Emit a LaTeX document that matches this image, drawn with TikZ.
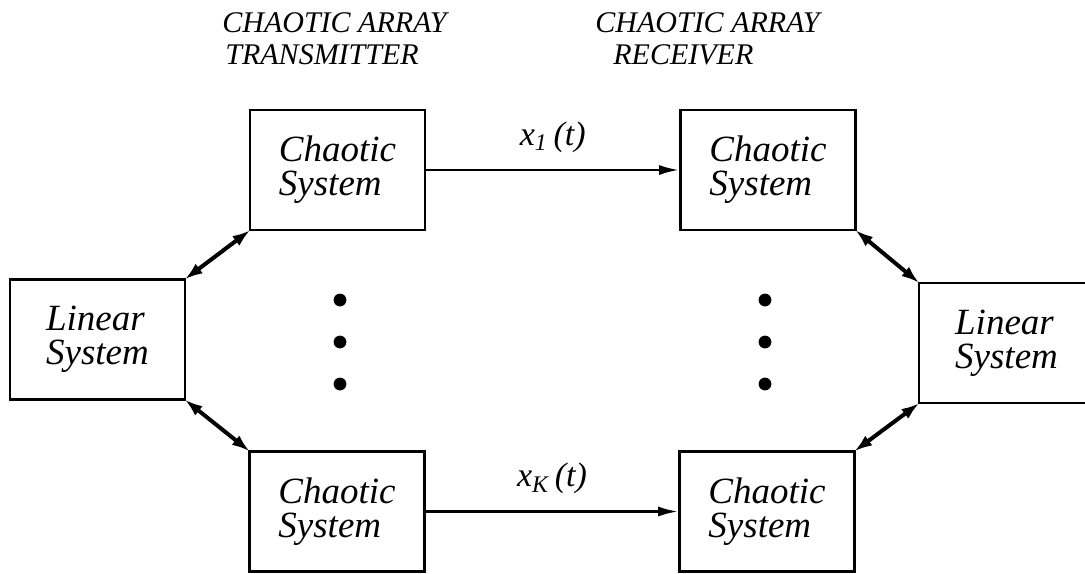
\documentclass[tikz,border=0pt]{standalone}
\usepackage{fontspec}
\setmainfont{Liberation Serif}
\usetikzlibrary{arrows.meta,positioning}
\tikzset{
  sysbox/.style={draw, line width=1.3pt, minimum width=87.5pt, minimum height=60pt,
    inner sep=0pt, align=left, font=\fontsize{18.5}{17}\selectfont\itshape},
  arraytitle/.style={anchor=north west, inner sep=0pt, align=left,
    font=\fontsize{15}{16}\selectfont\itshape},
  siglabel/.style={inner sep=0pt, font=\fontsize{17}{17}\selectfont\itshape},
  sigline/.style={line width=1.3pt, -{Latex[length=10pt,width=5pt]}},
  coupling/.style={line width=2pt, {Latex[length=9pt,width=6pt]}-{Latex[length=9pt,width=6pt]}, shorten <=-1pt, shorten >=-1pt}
}
\begin{document}
\begin{tikzpicture}[x=0.5pt,y=-0.5pt]
\clip (0,0) rectangle (1085,573);
% titles
\node[arraytitle] (txtitle) at (222,12) {CHAOTIC ARRAY\\\hspace*{1.5pt}TRANSMITTER};
\node[arraytitle] (rxtitle) at (595,12) {CHAOTIC ARRAY\\\hspace*{9pt}RECEIVER};

% transmitter side
\node[sysbox] (linL) at (97.5,339.5) {Linear\\System};
\node[sysbox] (chTL) at (337.5,170) {Chaotic\\System};
\node[sysbox] (chBL) at (337,511.5) {Chaotic\\System};

% receiver side
\node[sysbox] (chTR) at (768,170) {Chaotic\\System};
\node[sysbox] (chBR) at (767,511.5) {Chaotic\\System};
\node[sysbox] (linR) at (1006.5,343) {Linear\\System};

% channels
\draw[sigline] (chTL.east) -- (chTR.west) node[siglabel, midway, above=8pt] (x1) {x\textsubscript{1}\,(t)};
\draw[sigline] (chBL.east) -- (chBR.west) node[siglabel, midway, above=8pt] (xK) {x\textsubscript{K}\,(t)};

% couplings
\draw[coupling] (linL.north east) -- (chTL.south west);
\draw[coupling] (linL.south east) -- (chBL.north west);
\draw[coupling] (chTR.south east) -- (linR.north west);
\draw[coupling] (chBR.north east) -- (linR.south west);

% dots
\foreach \y in {300,342,384} {
  \fill (340,\y) circle (3.2pt);
  \fill (765,\y) circle (3.2pt);
}
\end{tikzpicture}
\end{document}
